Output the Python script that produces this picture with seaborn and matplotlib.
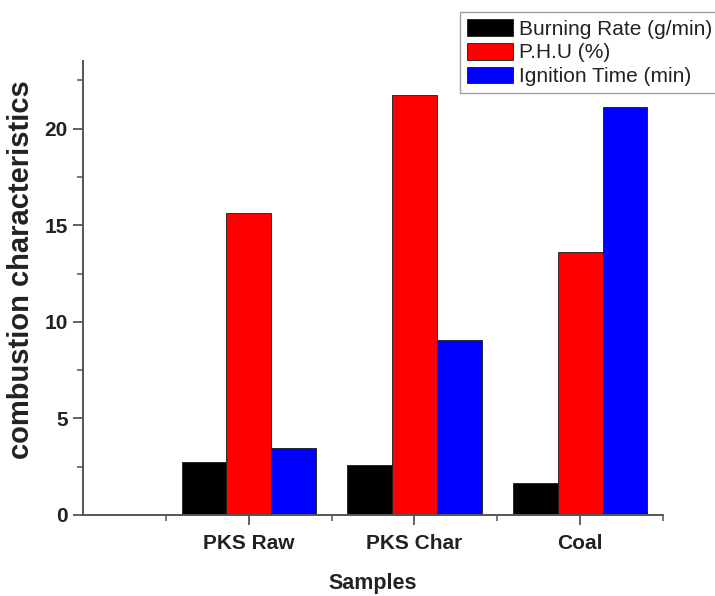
import pandas as pd
import matplotlib
matplotlib.use("Agg")
import matplotlib.pyplot as plt
import seaborn as sns
from matplotlib.ticker import MultipleLocator, FixedLocator

# 数据
samples = ["PKS Raw", "PKS Char", "Coal"]
series = ["Burning Rate (g/min)", "P.H.U (%)", "Ignition Time (min)"]
burning_rate = [2.75, 2.58, 1.67]
phu = [15.65, 21.75, 13.6]
ignition_time = [3.48, 9.04, 21.1]
colors = ["#000000", "#ff0000", "#0000ff"]

df = pd.DataFrame({
    "Samples": samples * 3,
    "Series": [s for s in series for _ in samples],
    "Value": burning_rate + phu + ignition_time,
})

sns.set_theme(style="ticks")
plt.rcParams["font.family"] = ["Liberation Sans", "DejaVu Sans"]

fig = plt.figure(figsize=(7.15, 5.96), dpi=100)
ax = fig.add_axes([83 / 715, 1 - 515 / 596, 580 / 715, 454 / 596])

sns.barplot(
    data=df, x="Samples", y="Value", hue="Series",
    order=samples, hue_order=series, palette=colors,
    width=0.81, edgecolor="#1a1a1a", linewidth=0.6,
    saturation=1, ax=ax,
)

ax.set_xlim(-1, 2.5)
ax.set_ylim(0, 23.5)

# 坐标轴样式
for side in ["top", "right"]:
    ax.spines[side].set_visible(False)
for side in ["left", "bottom"]:
    ax.spines[side].set_color("#555555")
    ax.spines[side].set_linewidth(1.4)

ax.yaxis.set_major_locator(MultipleLocator(5))
ax.yaxis.set_minor_locator(MultipleLocator(2.5))
ax.xaxis.set_minor_locator(FixedLocator([-0.5, 0.5, 1.5, 2.5]))
ax.tick_params(axis="both", which="major", length=7, width=1.3,
               color="#555555", labelsize=15, pad=4)
ax.tick_params(axis="x", which="major", pad=7)
ax.tick_params(axis="both", which="minor", length=4, width=1.1,
               color="#555555")
for lab in ax.get_xticklabels() + ax.get_yticklabels():
    lab.set_fontweight("bold")
    lab.set_color("#222222")

ax.set_xlabel("Samples", fontsize=15.5, fontweight="bold", color="#222222", labelpad=14)
ax.set_ylabel("combustion characteristics", fontsize=21, fontweight="bold", color="#222222")
ax.yaxis.set_label_coords(-0.082, 0.54)

# 图例（右侧超出画布）
leg = ax.legend(
    loc="upper left", bbox_to_anchor=(460 / 715, 1 - 12 / 596),
    bbox_transform=fig.transFigure, fontsize=15, frameon=True,
    fancybox=False, handlelength=2.2, handleheight=0.85,
    handletextpad=0.3, labelspacing=0.2, borderpad=0.35,
    borderaxespad=0,
)
leg.get_frame().set_edgecolor("#888888")
leg.get_frame().set_linewidth(1.0)
for t in leg.get_texts():
    t.set_color("#222222")

fig.savefig("out.png", dpi=100)
